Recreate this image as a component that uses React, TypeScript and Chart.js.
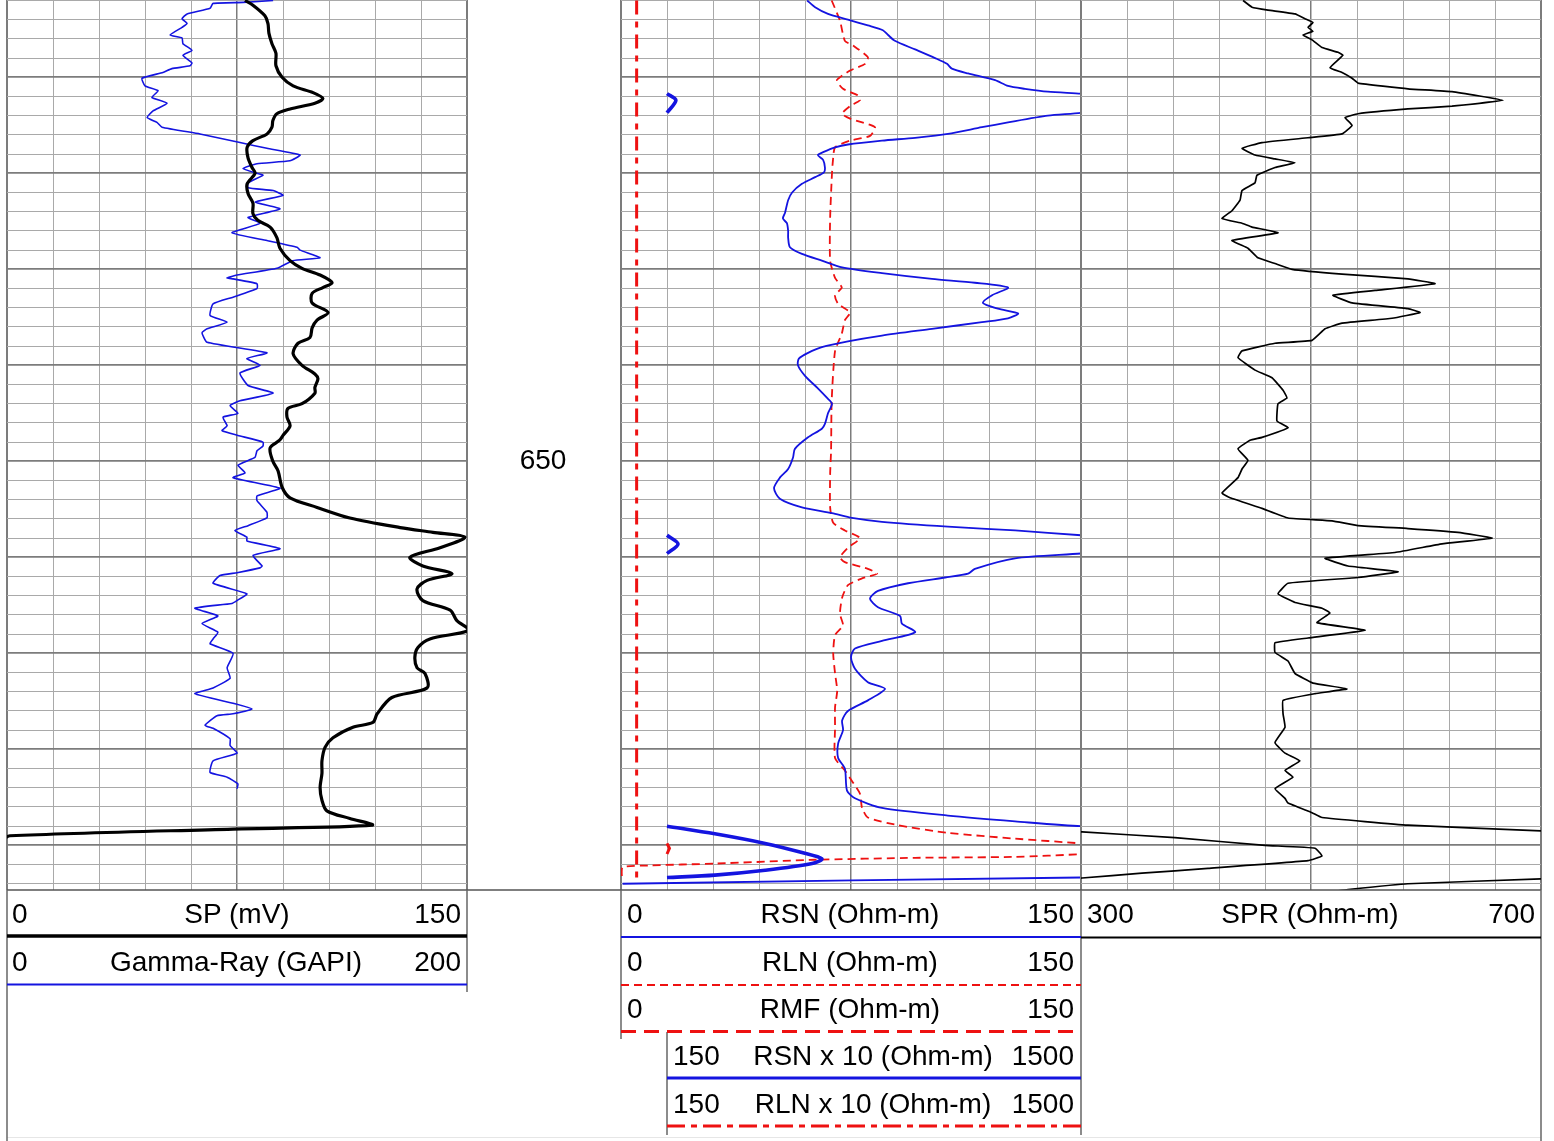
import React, { useEffect, useRef } from "react";
import { Chart, registerables } from "chart.js";

Chart.register(...registerables);

type Pt = [number, number | null];

// ---------------- depth axis ----------------
const DEPTH_TOP = 601.95;
const DEPTH_BOTTOM = 694.65;
const depthLabels = [650];
const depthGridTicks: number[] = [];
for (let d = 602; d <= 694; d += 2) depthGridTicks.push(d);

// ---------------- scales ----------------
const spRange = [0, 150];
const grRange = [0, 200];
const resRange = [0, 150];
const resX10Range = [0, 1500];
const sprRange = [300, 700];

// ---------------- header labels ----------------
const spHeader = ["0", "SP (mV)", "150"];
const grHeader = ["0", "Gamma-Ray (GAPI)", "200"];
const rsnHeader = ["0", "RSN (Ohm-m)", "150"];
const rlnHeader = ["0", "RLN (Ohm-m)", "150"];
const rmfHeader = ["0", "RMF (Ohm-m)", "150"];
const rsnX10Header = ["150", "RSN x 10 (Ohm-m)", "1500"];
const rlnX10Header = ["150", "RLN x 10 (Ohm-m)", "1500"];
const sprHeader = ["300", "SPR (Ohm-m)", "700"];

// ---------------- curves: [depth, value] ----------------
const SP: Pt[] = [
  [602.0, 77.6], [602.5, 80.2], [603.6, 84.1], [604.4, 85.1], [605.4, 85.4], [606.5, 86.4], [607.5, 87.7],
  [608.8, 87.7], [610.0, 89.7], [610.9, 93.3], [611.6, 99.8], [612.2, 103.0], [612.7, 100.4], [613.3, 92.3],
  [613.8, 88.0], [614.5, 86.7], [615.2, 86.4], [615.9, 84.8], [616.6, 80.2], [617.3, 78.3], [618.4, 78.6],
  [619.4, 79.9], [620.0, 80.9], [621.1, 78.3], [622.1, 78.6], [623.1, 80.2], [624.2, 80.2], [624.9, 81.8],
  [625.6, 85.8], [626.7, 88.0], [627.8, 89.0], [629.1, 92.3], [629.9, 96.2], [630.6, 102.1], [631.4, 106.0],
  [631.9, 103.0], [632.5, 99.5], [633.5, 99.5], [634.5, 104.7], [635.3, 101.1], [636.1, 99.5], [637.1, 98.8],
  [637.7, 94.9], [638.8, 93.3], [640.0, 96.2], [640.9, 100.4], [641.4, 101.4], [642.3, 100.4], [642.9, 100.4],
  [644.0, 96.2], [644.5, 91.6], [645.4, 91.3], [646.3, 92.3], [647.3, 90.0], [647.8, 88.9], [648.6, 85.8],
  [650.0, 86.7], [651.0, 88.4], [652.7, 89.7], [653.8, 92.3], [654.8, 101.1], [655.9, 111.8], [656.9, 128.2],
  [657.4, 138.9], [657.9, 149.3], [659.0, 141.2], [660.0, 131.4], [660.9, 135.6], [661.7, 145.1], [662.4, 137.0],
  [663.3, 133.7], [664.5, 135.6], [665.5, 144.5], [666.6, 146.7], [667.6, 150.5], [668.5, 137.9], [669.4, 134.0],
  [670.4, 133.0], [671.5, 133.7], [672.1, 136.3], [673.6, 137.0], [674.6, 125.5], [676.3, 120.7], [677.2, 119.3],
  [677.7, 112.8], [678.8, 106.3], [679.8, 103.7], [681.2, 102.7], [682.5, 102.7], [684.0, 102.1], [685.3, 102.7],
  [686.4, 104.3], [687.2, 111.8], [687.9, 119.0], [688.3, 73.7], [689.0, 1.0], [689.3, -1.0],
];

const GR: Pt[] = [
  [602.0, 115.7], [602.2, 102.6], [602.3, 89.6], [602.8, 88.3], [603.4, 78.3], [603.9, 76.1], [604.4, 78.3],
  [604.8, 76.1], [605.6, 70.9], [605.9, 76.1], [606.5, 76.5], [607.2, 80.4], [607.7, 76.5], [608.5, 80.4],
  [608.8, 79.6], [609.1, 71.7], [609.5, 67.8], [610.1, 58.7], [610.9, 60.0], [611.4, 65.7], [612.1, 63.0],
  [612.7, 69.6], [613.5, 63.5], [614.2, 60.9], [614.7, 65.2], [615.2, 67.4], [615.9, 83.9], [616.8, 101.3],
  [617.4, 113.0], [618.1, 127.4], [618.7, 123.0], [619.0, 108.7], [619.5, 102.6], [620.0, 108.7], [620.2, 111.3],
  [621.0, 104.8], [621.5, 104.8], [621.8, 115.7], [622.3, 120.0], [623.0, 107.8], [623.7, 118.7], [624.6, 104.8],
  [625.2, 110.0], [626.2, 97.8], [627.0, 113.0], [627.7, 126.1], [628.0, 127.4], [628.8, 136.1], [629.1, 124.3],
  [629.9, 117.4], [630.6, 100.0], [630.9, 95.7], [631.0, 98.3], [631.5, 108.7], [632.0, 108.7], [632.9, 98.3],
  [633.6, 89.6], [634.8, 88.3], [635.5, 95.7], [636.2, 87.0], [636.6, 84.8], [637.6, 87.0], [638.7, 113.0],
  [639.3, 104.3], [640.0, 110.0], [640.8, 101.3], [642.1, 104.8], [642.9, 115.7], [643.7, 101.3], [644.2, 97.0],
  [645.0, 100.4], [645.4, 93.9], [646.3, 95.7], [646.8, 93.5], [647.3, 100.4], [648.0, 111.3], [648.4, 111.3],
  [648.9, 108.7], [649.6, 107.8], [650.4, 100.4], [651.2, 103.5], [651.7, 98.3], [652.8, 118.7], [653.6, 108.7],
  [654.1, 108.7], [655.3, 113.0], [655.9, 113.0], [656.7, 104.8], [657.2, 99.1], [657.9, 104.3], [658.3, 104.3],
  [659.1, 118.7], [659.8, 107.0], [660.9, 110.9], [661.1, 110.0], [661.6, 100.0], [661.9, 92.6], [662.7, 89.6],
  [663.8, 104.3], [664.5, 100.0], [664.8, 97.8], [665.3, 81.7], [666.1, 91.7], [666.9, 84.8], [667.8, 91.7],
  [668.5, 89.6], [669.0, 88.3], [670.0, 98.3], [671.5, 95.7], [672.6, 97.0], [673.6, 89.6], [674.2, 81.7],
  [675.2, 98.3], [675.8, 106.5], [676.3, 98.3], [676.5, 91.3], [677.5, 86.1], [677.8, 89.6], [678.9, 97.0],
  [679.6, 97.0], [680.4, 100.0], [681.2, 89.6], [682.4, 88.3], [682.9, 95.7], [683.6, 100.4], [684.1, 100.0],
];

const RSN: Pt[] = [
  [602.0, 60.7], [602.7, 63.3], [603.4, 67.5], [604.0, 74.0], [604.6, 80.5], [605.1, 85.4], [605.6, 87.1],
  [606.2, 89.3], [607.1, 95.9], [608.0, 102.4], [608.6, 106.3], [609.1, 107.9], [609.6, 113.2], [610.3, 122.0],
  [610.9, 126.2], [611.2, 131.7], [611.5, 139.2], [611.7, 150], [612.4, 179], [613.7, 150], [614.0, 139.2],
  [614.7, 126.2], [615.2, 117.7], [615.9, 106.6], [616.3, 95.9], [616.6, 85.1], [617.0, 74.0], [617.3, 69.8],
  [617.8, 65.9], [618.1, 64.2], [618.6, 65.9], [619.4, 66.5], [619.9, 66.2], [620.4, 63.3], [621.1, 59.0],
  [622.0, 55.8], [622.8, 54.5], [624.1, 53.5], [624.7, 52.8], [625.2, 54.1], [626.0, 54.5], [626.7, 54.5],
  [627.7, 55.1], [628.4, 59.0], [629.1, 65.5], [629.8, 72.1], [630.4, 85.1], [631.0, 101.4], [631.4, 115.4],
  [631.9, 126.2], [632.7, 121.0], [633.5, 118.0], [634.1, 122.9], [634.6, 129.5], [635.1, 126.2], [635.5, 117.7],
  [636.2, 101.4], [636.9, 85.1], [637.5, 74.0], [638.1, 65.5], [638.7, 61.0], [639.3, 58.0], [640.0, 57.7],
  [641.1, 60.0], [642.4, 64.2], [643.4, 67.2], [644.0, 68.8], [645.0, 67.5], [646.1, 66.5], [646.6, 65.5],
  [647.5, 61.0], [648.7, 56.7], [649.6, 56.1], [650.8, 54.5], [651.7, 51.8], [652.8, 49.9], [653.9, 51.8],
  [654.8, 59.0], [655.4, 68.8], [655.9, 75.3], [656.3, 85.1], [656.8, 106.6], [657.2, 128.5], [657.7, 150],
  [658.6, 186], [659.6, 150], [660.1, 128.5], [661.2, 115.4], [661.7, 113.2], [662.1, 105.7], [662.7, 93.6],
  [663.5, 83.8], [664.3, 81.2], [665.2, 83.8], [666.1, 91.0], [666.9, 91.6], [667.8, 95.9], [668.7, 85.1],
  [669.5, 76.3], [670.4, 75.0], [671.6, 76.3], [673.0, 80.5], [673.7, 86.1], [674.9, 80.5], [676.0, 74.0],
  [677.0, 72.1], [678.0, 72.4], [679.4, 70.8], [680.9, 70.8], [682.0, 73.0], [684.3, 73.7], [685.1, 76.3],
  [686.1, 85.1], [686.9, 106.6], [687.5, 128.5], [688.0, 150], [688.8, 306], [689.8, 470], [690.75, 590],
  [691.4, 655], [691.9, 623], [692.6, 470], [693.1, 306], [693.35, 150], [694.0, 0.5],
];

const RSN_X10: Pt[] = [
  [611.7, 150], [612.4, 179], [613.7, 150], [635.0, null],
  [657.7, 150], [658.6, 186], [659.6, 150], [670.0, null],
  [688.0, 150], [688.8, 306], [689.8, 470], [690.75, 590], [691.4, 655], [691.9, 623], [692.6, 470],
  [693.1, 306], [693.35, 150],
];

const RLN: Pt[] = [
  [602.0, 68.7], [604.1, 71.4], [606.2, 73.0], [606.7, 75.7], [607.9, 80.5], [608.6, 79.6], [609.3, 74.7],
  [610.3, 70.4], [611.2, 72.4], [611.9, 77.3], [612.4, 77.9], [613.0, 74.7], [613.8, 72.1], [614.3, 74.7],
  [615.2, 82.8], [616.1, 81.2], [616.6, 74.7], [617.3, 69.8], [618.7, 69.1], [620.0, 68.8], [624.6, 68.2],
  [629.1, 68.2], [630.9, 69.8], [631.9, 72.0], [632.7, 69.8], [633.6, 70.8], [634.5, 74.7], [635.3, 73.0],
  [636.7, 72.0], [638.5, 69.8], [643.7, 68.7], [648.9, 68.5], [651.3, 68.2], [654.8, 68.2], [656.4, 69.2],
  [657.2, 73.0], [658.0, 77.9], [659.0, 74.0], [660.0, 71.4], [660.5, 73.0], [661.2, 80.5], [661.7, 83.5],
  [662.2, 78.6], [662.9, 74.0], [664.2, 72.1], [665.9, 71.4], [667.1, 72.4], [668.1, 69.8], [670.0, 69.2],
  [672.1, 69.8], [673.9, 70.5], [675.6, 69.8], [677.7, 69.8], [680.9, 69.8], [682.2, 73.0], [683.3, 75.3],
  [684.6, 77.9], [686.1, 78.6], [687.1, 80.5], [687.9, 90.3], [688.7, 106.6], [689.3, 128.5], [689.8, 150],
  [690.3, 166], [690.9, 150], [691.2, 128.5], [691.3, 95.9], [691.5, 63.3], [691.9, 30.7], [692.1, 8.8],
  [692.3, 0.5], [693.5, 0.3],
];

const RLN_X10: Pt[] = [[689.8, 150], [690.3, 158], [690.9, 150]];

const RMF: Pt[] = [[602.0, 5.1], [693.9, 5.1]];

const SPR: Pt[] = [
  [602.0, 440.9], [602.7, 448.7], [603.0, 462.6], [603.4, 486.1], [603.9, 494.8], [604.3, 501.7], [604.8, 497.4],
  [605.2, 501.7], [605.6, 493.0], [606.1, 500.9], [606.9, 509.6], [607.4, 523.5], [607.7, 527.8], [609.0, 516.5],
  [609.5, 527.0], [610.1, 535.7], [610.6, 540.9], [611.2, 584.3], [611.5, 622.6], [612.4, 667.0], [613.0, 622.6],
  [613.3, 584.3], [613.8, 540.9], [614.2, 529.6], [615.0, 535.7], [615.9, 527.0], [616.3, 497.4], [616.8, 457.4],
  [617.4, 440.0], [618.1, 451.3], [618.5, 468.7], [618.9, 486.1], [619.4, 468.7], [620.2, 453.0], [621.0, 451.3],
  [621.8, 440.0], [622.8, 438.3], [623.9, 431.3], [624.7, 422.6], [625.2, 440.0], [625.6, 448.7], [626.2, 471.3],
  [627.0, 431.3], [627.8, 445.2], [628.8, 453.9], [629.4, 468.7], [630.0, 483.5], [630.5, 527.0], [631.0, 584.3],
  [631.5, 607.8], [632.2, 555.7], [632.7, 519.1], [633.5, 535.7], [634.1, 584.3], [634.5, 594.8], [635.1, 570.4],
  [635.6, 527.0], [636.2, 512.2], [637.4, 500.9], [637.7, 468.7], [638.5, 440.0], [639.2, 436.5], [640.5, 451.3],
  [641.3, 466.1], [642.6, 475.7], [643.4, 479.1], [644.0, 471.3], [645.8, 470.4], [646.5, 480.0], [647.5, 457.4],
  [647.8, 447.0], [648.7, 436.5], [649.9, 445.2], [650.8, 440.0], [651.7, 436.5], [653.3, 422.6], [653.8, 429.6],
  [654.9, 457.4], [655.9, 480.0], [656.2, 518.3], [656.7, 540.9], [657.0, 584.3], [657.4, 627.8], [658.0, 657.4],
  [658.6, 613.9], [659.5, 573.0], [660.1, 512.2], [660.9, 532.2], [661.5, 575.7], [662.1, 540.9], [662.7, 480.0],
  [663.8, 471.3], [664.7, 486.1], [665.3, 509.6], [665.8, 516.5], [666.8, 505.2], [667.6, 547.0], [668.4, 497.4],
  [668.9, 468.7], [669.9, 468.7], [670.8, 480.0], [672.1, 486.1], [673.1, 501.7], [673.7, 531.3], [674.2, 503.5],
  [674.9, 475.7], [676.3, 475.7], [677.7, 477.4], [679.3, 468.7], [680.4, 477.4], [681.2, 490.4], [682.2, 477.4],
  [682.9, 484.3], [684.1, 468.7], [685.1, 477.4], [685.6, 480.0], [686.6, 500.9], [687.1, 509.6], [687.9, 584.3],
  [688.5, 700.0], [688.55, 715], [688.55, null], [688.55, 285], [688.6, 300.9], [689.2, 381.7], [690.0, 460.0],
  [690.3, 503.5], [691.1, 509.6], [691.6, 497.4], [692.4, 410.4], [692.9, 353.0], [693.4, 300.9], [693.45, 290],
  [693.45, null], [693.45, 712], [693.5, 700.0], [694.0, 584.3], [694.6, 532.2], [694.8, 520],
];

// ---------------- styling ----------------
const BLUE = "#1414e0";
const RED = "#ee1111";
const BLACK = "#000000";
const GRID_MINOR = "#a9a9a9";
const GRID_MAJOR = "#7c7c7c";
const FONT = '"Liberation Sans", Arial, Helvetica, sans-serif';

const PAD = 3;
const PLOT_H = 890;
const CANVAS_H = PLOT_H + 2 * PAD;

const toXY = (pts: Pt[]) => pts.map(([d, v]) => ({ x: v, y: d }));

function gridXAxis(range: number[]) {
  const [min, max] = range;
  return {
    type: "linear",
    position: "top",
    min,
    max,
    afterBuildTicks: (s: any) => {
      const t = [];
      for (let i = 0; i <= 10; i++) t.push({ value: min + ((max - min) * i) / 10 });
      s.ticks = t;
    },
    ticks: { display: false },
    grid: {
      drawTicks: false,
      color: (c: any) => (c.index % 5 === 0 ? GRID_MAJOR : GRID_MINOR),
      lineWidth: (c: any) => (c.index % 10 === 0 ? 2 : c.index % 5 === 0 ? 1.5 : 1),
    },
    border: { display: false },
  };
}

function hiddenXAxis(range: number[]) {
  return { type: "linear", min: range[0], max: range[1], display: false };
}

function depthAxis(showGrid: boolean) {
  return {
    type: "linear",
    reverse: true,
    min: DEPTH_TOP,
    max: DEPTH_BOTTOM,
    display: showGrid,
    afterBuildTicks: (s: any) => {
      s.ticks = depthGridTicks.map((v) => ({ value: v }));
    },
    ticks: { display: false },
    grid: {
      drawTicks: false,
      color: (c: any) => (c.tick && Math.abs(c.tick.value % 10) < 0.01 ? GRID_MAJOR : GRID_MINOR),
      lineWidth: (c: any) => (c.tick && Math.abs(c.tick.value % 10) < 0.01 ? 1.8 : 1),
    },
    border: { display: false },
  };
}

function curve(pts: Pt[], xAxisID: string, color: string, width: number, extra: any = {}) {
  return {
    data: toXY(pts),
    xAxisID,
    yAxisID: "y",
    borderColor: color,
    backgroundColor: color,
    borderWidth: width,
    pointRadius: 0,
    pointHoverRadius: 0,
    showLine: true,
    fill: false,
    spanGaps: false,
    tension: 0,
    ...extra,
  };
}

function baseOptions(scales: any) {
  return {
    animation: false,
    responsive: false,
    maintainAspectRatio: false,
    events: [],
    layout: { padding: PAD },
    plugins: { legend: { display: false }, tooltip: { enabled: false }, title: { display: false } },
    scales,
  };
}

const depthLabelPlugin = {
  id: "depthLabels",
  afterDraw(chart: any) {
    const { ctx, chartArea, scales } = chart;
    ctx.save();
    ctx.font = `28px ${FONT}`;
    ctx.fillStyle = BLACK;
    ctx.textAlign = "center";
    ctx.textBaseline = "middle";
    const cx = (chartArea.left + chartArea.right) / 2;
    depthLabels.forEach((d) => ctx.fillText(String(d), cx, scales.y.getPixelForValue(d)));
    ctx.restore();
  },
};

const track1Config = () => ({
  type: "scatter",
  data: {
    datasets: [
      curve(SP, "x", BLACK, 3.2, { tension: 0.3 }),
      curve(GR, "xGR", BLUE, 1.6, { tension: 0.15 }),
    ],
  },
  options: baseOptions({ x: gridXAxis(spRange), xGR: hiddenXAxis(grRange), y: depthAxis(true) }),
});

const depthConfig = () => ({
  type: "scatter",
  data: { datasets: [] },
  options: baseOptions({ x: hiddenXAxis([0, 1]), y: depthAxis(false) }),
  plugins: [depthLabelPlugin],
});

const track2Config = () => ({
  type: "scatter",
  data: {
    datasets: [
      curve(RSN, "x", BLUE, 1.8, { tension: 0.25 }),
      curve(RSN_X10, "xX10", BLUE, 3.6, { tension: 0.3 }),
      curve(RLN, "x", RED, 1.8, { borderDash: [8, 5], tension: 0.2 }),
      curve(RLN_X10, "xX10", RED, 3, { borderDash: [16, 5, 5, 5] }),
      curve(RMF, "x", RED, 3, { borderDash: [14, 7, 6, 7] }),
    ],
  },
  options: baseOptions({ x: gridXAxis(resRange), xX10: hiddenXAxis(resX10Range), y: depthAxis(true) }),
});

const track3Config = () => ({
  type: "scatter",
  data: { datasets: [curve(SPR, "x", BLACK, 1.7, { tension: 0.1 })] },
  options: baseOptions({ x: gridXAxis(sprRange), y: depthAxis(true) }),
});

function ChartCanvas({ left, width, makeConfig }: { left: number; width: number; makeConfig: () => any }) {
  const ref = useRef<HTMLCanvasElement | null>(null);
  useEffect(() => {
    if (!ref.current) return;
    const chart = new Chart(ref.current, makeConfig());
    return () => chart.destroy();
  }, []);
  return (
    <canvas
      ref={ref}
      width={width}
      height={CANVAS_H}
      style={{ position: "absolute", left, top: -PAD, width, height: CANVAS_H, display: "block" }}
    />
  );
}

function HeaderRow({
  labels,
  xl,
  xm,
  xr,
  baseline,
}: {
  labels: string[];
  xl: number;
  xm: number;
  xr: number;
  baseline: number;
}) {
  const common = { fontFamily: FONT, fontSize: 28, fill: BLACK } as any;
  return (
    <g>
      <text x={xl} y={baseline} textAnchor="start" {...common}>{labels[0]}</text>
      <text x={xm} y={baseline} textAnchor="middle" {...common}>{labels[1]}</text>
      <text x={xr} y={baseline} textAnchor="end" {...common}>{labels[2]}</text>
    </g>
  );
}

function Header() {
  const border = "#666";
  return (
    <svg
      width={1554}
      height={1141}
      style={{ position: "absolute", left: 0, top: 0, pointerEvents: "none" }}
    >
      {/* frame */}
      <line x1={7} y1={890} x2={1541} y2={890} stroke="#555" strokeWidth={1.5} />
      <line x1={7} y1={1137.5} x2={1541} y2={1137.5} stroke="#e6e6e6" strokeWidth={1} />
      <line x1={7} y1={890} x2={7} y2={1141} stroke={border} strokeWidth={1.5} />
      <line x1={467} y1={890} x2={467} y2={992} stroke={border} strokeWidth={1.5} />
      <line x1={621} y1={890} x2={621} y2={1039} stroke={border} strokeWidth={1.5} />
      <line x1={667} y1={1032} x2={667} y2={1135} stroke={border} strokeWidth={1.5} />
      <line x1={1081} y1={890} x2={1081} y2={1135} stroke={border} strokeWidth={1.5} />
      <line x1={1541} y1={890} x2={1541} y2={1141} stroke={border} strokeWidth={1.5} />

      {/* track 1 */}
      <HeaderRow labels={spHeader} xl={12} xm={237} xr={461} baseline={923} />
      <line x1={7} y1={936} x2={467} y2={936} stroke={BLACK} strokeWidth={3.5} />
      <HeaderRow labels={grHeader} xl={12} xm={236} xr={461} baseline={971} />
      <line x1={7} y1={984.5} x2={467} y2={984.5} stroke={BLUE} strokeWidth={2} />

      {/* track 2 */}
      <HeaderRow labels={rsnHeader} xl={627} xm={850} xr={1074} baseline={923} />
      <line x1={621} y1={937} x2={1081} y2={937} stroke={BLUE} strokeWidth={2} />
      <HeaderRow labels={rlnHeader} xl={627} xm={850} xr={1074} baseline={971} />
      <line x1={621} y1={985} x2={1081} y2={985} stroke={RED} strokeWidth={2} strokeDasharray="8 5" />
      <HeaderRow labels={rmfHeader} xl={627} xm={850} xr={1074} baseline={1018} />
      <line x1={621} y1={1031.5} x2={1081} y2={1031.5} stroke={RED} strokeWidth={3} strokeDasharray="15 8" />
      <HeaderRow labels={rsnX10Header} xl={673} xm={873} xr={1074} baseline={1065} />
      <line x1={667} y1={1078} x2={1081} y2={1078} stroke={BLUE} strokeWidth={3} />
      <HeaderRow labels={rlnX10Header} xl={673} xm={873} xr={1074} baseline={1113} />
      <line x1={667} y1={1126} x2={1081} y2={1126} stroke={RED} strokeWidth={3} strokeDasharray="18 6 6 6" />

      {/* track 3 */}
      <HeaderRow labels={sprHeader} xl={1087} xm={1310} xr={1535} baseline={923} />
      <line x1={1081} y1={937.5} x2={1541} y2={937.5} stroke={BLACK} strokeWidth={2} />
    </svg>
  );
}

export default function App() {
  return (
    <div
      style={{
        position: "absolute",
        left: 0,
        top: 0,
        width: 1554,
        height: 1141,
        overflow: "hidden",
        background: "#ffffff",
      }}
    >
      <ChartCanvas left={4} width={466} makeConfig={track1Config} />
      <ChartCanvas left={465} width={156} makeConfig={depthConfig} />
      <ChartCanvas left={618} width={466} makeConfig={track2Config} />
      <ChartCanvas left={1078} width={466} makeConfig={track3Config} />
      <Header />
    </div>
  );
}
